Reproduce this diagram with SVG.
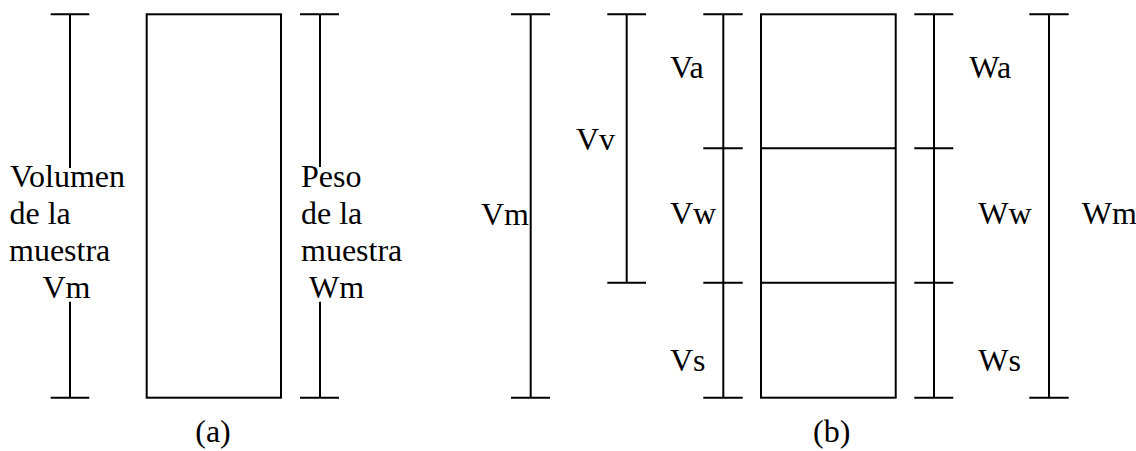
<svg xmlns="http://www.w3.org/2000/svg" width="1136" height="451" viewBox="0 0 1136 451">
<style>
.l{stroke:#000;stroke-width:2;fill:none}
</style>
<rect width="1136" height="451" fill="#fff"/>
<g id="connectors">
<path class="l" d="M70,14.3V168M70,301.7V397.7M50.7,14.3H89.3M50.7,397.7H89.3"/>
<path class="l" d="M320,14.3V167M320,301.7V397.7M300,14.3H339M300,397.7H339"/>
<path class="l" d="M530.7,14.3V397.7M511,14.3H550M511,397.7H550"/>
<path class="l" d="M626.7,14.3V282.7M607.3,14.3H646M607.3,282.7H646"/>
<path class="l" d="M723.3,14.3V397.7M703.3,14.3H742.7M703.3,148.3H742.7M703.3,282.7H742.7M703.3,397.7H742.7"/>
<path class="l" d="M934,14.3V397.7M914.3,14.3H953.3M914.3,148.3H953.3M914.3,282.7H953.3M914.3,397.7H953.3"/>
<path class="l" d="M1049,14.3V397.7M1029.3,14.3H1068.7M1029.3,397.7H1068.7"/>
</g>
<g id="sample-a">
<rect class="l" x="146.7" y="14.3" width="134.3" height="383.4"/>
</g>
<g id="sample-b">
<rect class="l" x="761" y="14.3" width="134.7" height="383.4"/>
<path class="l" d="M761,148.3H895.7M761,282.7H895.7"/>
</g>
<g id="labels-a" font-family="Liberation Serif, DejaVu Serif, serif" font-size="32" fill="#000">
<text x="10" y="187.3">Volumen</text>
<text x="9.5" y="224">de la</text>
<text x="9" y="261">muestra</text>
<text x="42.5" y="297.7">Vm</text>
<text x="301" y="187.3">Peso</text>
<text x="301" y="224">de la</text>
<text x="301" y="261">muestra</text>
<text x="309" y="297.7">Wm</text>
<text x="213" y="442" text-anchor="middle">(a)</text>
</g>
<g id="labels-b" font-family="Liberation Serif, DejaVu Serif, serif" font-size="32" fill="#000">
<text x="529" y="225" text-anchor="end">Vm</text>
<text x="576" y="150">Vv</text>
<text x="670" y="78.3">Va</text>
<text x="670" y="224">Vw</text>
<text x="670" y="371">Vs</text>
<text x="969.3" y="78.3">Wa</text>
<text x="978.3" y="224">Ww</text>
<text x="978.3" y="371">Ws</text>
<text x="1081.7" y="224">Wm</text>
<text x="831.7" y="442" text-anchor="middle">(b)</text>
</g>
</svg>
